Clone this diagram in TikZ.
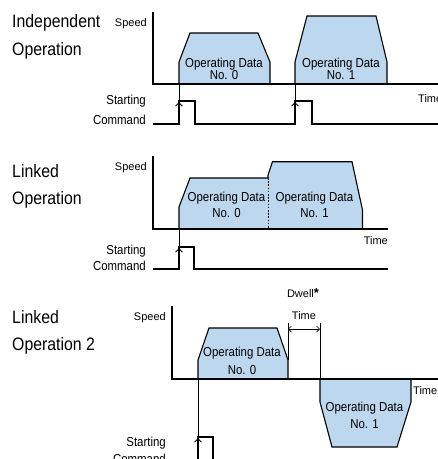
\documentclass[tikz,border=0pt]{standalone}
\usepackage{fontspec}
\setmainfont{Liberation Sans}[FakeStretch=0.88]
\newfontfamily\regfont{Liberation Sans}
\usetikzlibrary{arrows.meta}
\definecolor{speedblue}{HTML}{BDD7EE}
\begin{document}
\begin{tikzpicture}[x=1pt,y=-1pt,
  title/.style={font=\fontsize{18}{20}\selectfont, anchor=base west, inner sep=0},
  lbl/.style={font=\fontsize{13}{14}\selectfont, inner sep=0, anchor=base},
  small/.style={font=\regfont\fontsize{11}{12}\selectfont, inner sep=0},
  axis/.style={line width=1.4pt},
  prof/.style={draw=black, line width=1.1pt, line join=miter},
  cmd/.style={line width=1.1pt},
  thinline/.style={line width=0.7pt},
  uptip/.style={-{Straight Barb[length=3.5pt,width=7pt]}, line width=0.9pt},
  dwarrow/.style={{Straight Barb[length=3pt,width=6pt]}-{Straight Barb[length=3pt,width=6pt]}, line width=0.7pt}
]
\useasboundingbox (0,0) rectangle (438,459);
\clip (0,0) rectangle (438,459);

% ---------- Panel 1: Independent Operation ----------
\node[title] (t1a) at (12,27.5) {Independent};
\node[title] (t1b) at (12,55) {Operation};
\node[small, anchor=base east] (s1) at (147,26.7) {Speed};

\fill[speedblue] (179,84) -- (179,62) -- (190,33) -- (258,33) -- (270,62) -- (270,84) -- cycle;
\draw[prof] (179,84) -- (179,62) -- (190,33) -- (258,33) -- (270,62) -- (270,84);
\fill[speedblue] (295,84) -- (295,62) -- (307,16) -- (376,16) -- (387,62) -- (387,84) -- cycle;
\draw[prof] (295,84) -- (295,62) -- (307,16) -- (376,16) -- (387,62) -- (387,84);

\node[lbl] (d10a) at (224,67) {Operating Data};
\node[lbl] (d10b) at (224,79) {No. 0};
\node[lbl] (d11a) at (341,67) {Operating Data};
\node[lbl] (d11b) at (341,79) {No. 1};

\draw[axis] (153,12) -- (153,84) -- (440,84);
\node[small, anchor=base west] (tm1) at (418,102) {Time};

\node[lbl, anchor=base east] (sc1a) at (146,104) {Starting};
\node[lbl, anchor=base east] (sc1b) at (146,124) {Command};
\draw[cmd] (153,124) -- (179,124) -- (179,101) -- (195,101) -- (195,124) -- (295,124)
  -- (295,101) -- (312,101) -- (312,124) -- (440,124);
\draw[thinline] (179,101) -- (179,84);
\draw[thinline] (295,101) -- (295,84);
\draw[uptip] (179,112) -- (179,102);
\draw[uptip] (295,112) -- (295,102);

% ---------- Panel 2: Linked Operation ----------
\node[title] (t2a) at (12,177.7) {Linked};
\node[title] (t2b) at (12,204.3) {Operation};
\node[small, anchor=base east] (s2) at (147,170.7) {Speed};

\fill[speedblue] (179,229) -- (179,207) -- (190,178) -- (268,178) -- (268,175) -- (272.5,161.7)
  -- (352,161.7) -- (362.5,210) -- (362.5,229) -- cycle;
\draw[prof] (179,229) -- (179,207) -- (190,178) -- (268,178) -- (268,175) -- (272.5,161.7)
  -- (352,161.7) -- (362.5,210) -- (362.5,229);
\draw[line width=1pt, dash pattern=on 1.6pt off 1.6pt] (268,178) -- (268,229);

\node[lbl] (d20a) at (226.5,201.7) {Operating Data};
\node[lbl] (d20b) at (226.5,217.7) {No. 0};
\node[lbl] (d21a) at (314.5,201.7) {Operating Data};
\node[lbl] (d21b) at (314.5,217.7) {No. 1};

\draw[axis] (153,156) -- (153,229) -- (388,229);
\node[small, anchor=base east] (tm2) at (388,244) {Time};

\node[lbl, anchor=base east] (sc2a) at (146,254) {Starting};
\node[lbl, anchor=base east] (sc2b) at (146,270.5) {Command};
\draw[cmd] (153,269) -- (179,269) -- (179,247) -- (194,247) -- (194,269) -- (388,269);
\draw[thinline] (179,247) -- (179,229);
\draw[uptip] (179,258) -- (179,248);

% ---------- Panel 3: Linked Operation 2 ----------
\node[title] (t3a) at (12,323.3) {Linked};
\node[title] (t3b) at (12,350) {Operation 2};
\node[small, anchor=base east] (s3) at (166,320.7) {Speed};

\fill[speedblue] (198,379) -- (198,360) -- (209,328) -- (277,328) -- (288,360) -- (288,379) -- cycle;
\draw[prof] (198,379) -- (198,360) -- (209,328) -- (277,328) -- (288,360) -- (288,379);
\fill[speedblue] (320,379) -- (320,402) -- (332,447) -- (397,447) -- (411,402) -- (411,379) -- cycle;
\draw[prof] (320,379) -- (320,402) -- (332,447) -- (397,447) -- (411,402) -- (411,379);

\node[lbl] (d30a) at (242,356.7) {Operating Data};
\node[lbl] (d30b) at (242,374) {No. 0};
\node[lbl] (d31a) at (364.5,411.7) {Operating Data};
\node[lbl] (d31b) at (364.5,428.3) {No. 1};

\draw[axis] (172,306) -- (172,379) -- (440,379);
\node[small, anchor=base west] (tm3) at (413,394) {Time};

% dwell time
\node[small, anchor=base] (dw1) at (303,297) {Dwell{\fontsize{13}{14}\selectfont\bfseries *}};
\node[small, anchor=base] (dw2) at (304,319) {Time};
\coordinate (dwl) at (288,329);
\coordinate (dwr) at (320,329);
\draw[thinline] (288,323) -- (288,360);
\draw[thinline] (320,323) -- (320,379);
\draw[dwarrow] (dwl) -- (dwr);

\node[lbl, anchor=base east] (sc3a) at (166,446.7) {Starting};
\node[lbl, anchor=base east] (sc3b) at (166,463) {Command};
\draw[cmd] (198,470) -- (198,437) -- (213,437) -- (213,470);
\draw[thinline] (198,437) -- (198,379);
\draw[uptip] (198,447) -- (198,438);
\end{tikzpicture}
\end{document}
